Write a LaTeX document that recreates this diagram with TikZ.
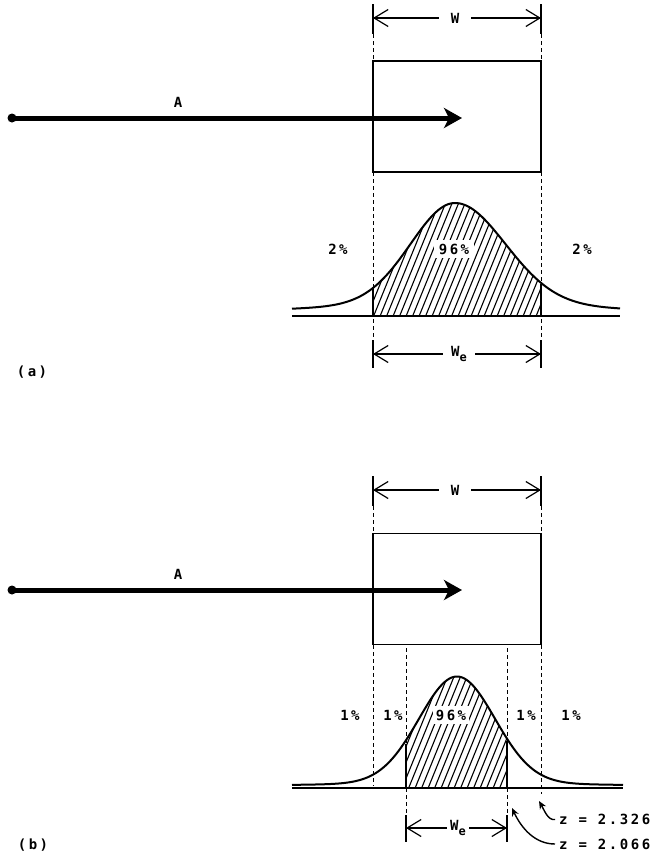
\documentclass[tikz,border=0pt]{standalone}
\usepackage{fontspec}
\newfontfamily\tw[LetterSpace=18]{DejaVu Sans Mono Bold}
\usetikzlibrary{arrows.meta}
\tikzset{
  lbl/.style={font=\tw\fontsize{14}{14}\selectfont, inner sep=1pt},
  dimline/.style={line width=1.2pt, -{Straight Barb[length=14pt,width=17pt,line width=1.2pt]}},
  tick/.style={line width=1.3pt},
  guide/.style={line width=1pt, dash pattern=on 4pt off 3pt},
  boxst/.style={draw, line width=1.5pt, minimum width=168pt, minimum height=111pt, inner sep=0pt},
  bigarrow/.style={line width=5pt, -{Stealth[length=18pt,width=20pt,inset=5pt]}},
  dotst/.style={circle, fill=black, inner sep=0pt, minimum size=9pt},
  curvest/.style={line width=2pt, line join=round},
  basest/.style={line width=2pt},
  hatchst/.style={line width=1.1pt},
  edgest/.style={line width=2pt},
  zarrow/.style={line width=1.4pt, shorten <=3pt, -{Stealth[length=8pt,width=7pt]}}
}
\newcommand{\We}{W\raisebox{-4.5pt}{\fontsize{12}{12}\selectfont e}}
% curve (a): centre 455, baseline 316
\newcommand{\curveA}{plot[domain=292:455, samples=70] (\x,{316-(101*exp(-0.5*((\x-455)/44)^2)+12/(1+((\x-455)/200)^2))}) -- plot[domain=455:620, samples=70] (\x,{316-(101*exp(-0.5*((\x-455)/50)^2)+12/(1+((\x-455)/200)^2))})}
% curve (b): centre 457, baseline 788
\newcommand{\curveB}{plot[domain=292:623, samples=140] (\x,{788-(107*exp(-0.5*((\x-457)/38)^2)+4.5/(1+((\x-457)/250)^2))})}
\begin{document}
\begin{tikzpicture}[x=1pt,y=-1pt]
\useasboundingbox (0,0) rectangle (658,854);

% ================= (a) =================
\draw[tick] (373,4) -- (373,34);
\draw[tick] (541,4) -- (541,34);
\node[lbl, inner xsep=12pt] (Wa) at (455,18) {W};
\coordinate (wal) at (373,18);
\coordinate (war) at (541,18);
\draw[dimline] (Wa) -- (wal);
\draw[dimline] (Wa) -- (war);
\draw[guide] (373,34) -- (373,61);
\draw[guide] (541,34) -- (541,61);
\node[boxst] (boxa) at (457,116.5) {};
\node[dotst] (dota) at (12,118) {};
\coordinate (tipa) at (462,118);
\draw[bigarrow] (dota.center) -- (tipa);
\node[lbl] (Aa) at (178,102.5) {A};
\draw[guide] (373,172) -- (373,340);
\draw[guide] (541,172) -- (541,340);
\begin{scope}
\clip (373,190) rectangle (541,316);
\clip \curveA -- (620,316) -- (292,316) -- cycle;
\foreach \i in {0,...,38} \draw[hatchst] (320+\i*6.5,320) -- ++(55,-135);
\end{scope}
\draw[curvest] \curveA;
\draw[basest] (292,316) -- (620,316);
\draw[edgest] (373,287) -- (373,316);
\draw[edgest] (541,284) -- (541,316);
\node[lbl] (pa1) at (338,249) {2\%};
\node[lbl, fill=white, inner xsep=5pt, inner ysep=4pt] (pa2) at (454,249) {96\%};
\node[lbl] (pa3) at (582,249) {2\%};
\draw[tick] (373,340) -- (373,368);
\draw[tick] (541,340) -- (541,368);
\node[lbl, inner xsep=8pt] (Wea) at (459,354) {\We};
\coordinate (weal) at (373,354);
\coordinate (wear) at (541,354);
\draw[dimline] (Wea) -- (weal);
\draw[dimline] (Wea) -- (wear);
\node[lbl] (la) at (32,372) {(a)};

% ================= (b) =================
\draw[tick] (373,476) -- (373,506);
\draw[tick] (541,476) -- (541,506);
\node[lbl, inner xsep=12pt] (Wb) at (455,490) {W};
\coordinate (wbl) at (373,490);
\coordinate (wbr) at (541,490);
\draw[dimline] (Wb) -- (wbl);
\draw[dimline] (Wb) -- (wbr);
\draw[guide] (373,506) -- (373,533);
\draw[guide] (541,506) -- (541,533);
\node[boxst] (boxb) at (457,589) {};
\node[dotst] (dotb) at (12,590) {};
\coordinate (tipb) at (462,590);
\draw[bigarrow] (dotb.center) -- (tipb);
\node[lbl] (Ab) at (178,574) {A};
\draw[guide] (373,645) -- (373,786);
\draw[guide] (541,645) -- (541,794);
\draw[guide] (406,648) -- (406,818);
\draw[guide] (507,648) -- (507,818);
\begin{scope}
\clip (406,660) rectangle (507,788);
\clip \curveB -- (623,788) -- (292,788) -- cycle;
\foreach \i in {0,...,26} \draw[hatchst] (355+\i*6.5,792) -- ++(55,-135);
\end{scope}
\draw[curvest] \curveB;
\draw[basest] (292,788) -- (623,788);
\draw[edgest] (406,744) -- (406,788);
\draw[edgest] (507,741) -- (507,788);
\node[lbl] (pb1) at (350,715) {1\%};
\node[lbl] (pb2) at (393,715) {1\%};
\node[lbl, fill=white, inner xsep=3pt, inner ysep=4pt] (pb3) at (451,715) {96\%};
\node[lbl] (pb4) at (526,715) {1\%};
\node[lbl] (pb5) at (571,715) {1\%};
\draw[tick] (406,815) -- (406,842);
\draw[tick] (507,815) -- (507,842);
\node[lbl, inner xsep=3pt] (Web) at (458,828) {\We};
\coordinate (webl) at (406,828);
\coordinate (webr) at (507,828);
\draw[dimline] (Web) -- (webl);
\draw[dimline] (Web) -- (webr);
\node[lbl, anchor=west] (z1) at (558,819) {z = 2.326};
\node[lbl, anchor=west] (z2) at (558,844) {z = 2.066};
\coordinate (zt1) at (539,801);
\coordinate (zt2) at (512,808);
\draw[zarrow] (z1.west) to[out=190,in=-60] (zt1);
\draw[zarrow] (z2.west) to[out=180,in=-65] (zt2);
\node[lbl] (lb) at (33,845) {(b)};
\end{tikzpicture}
\end{document}
